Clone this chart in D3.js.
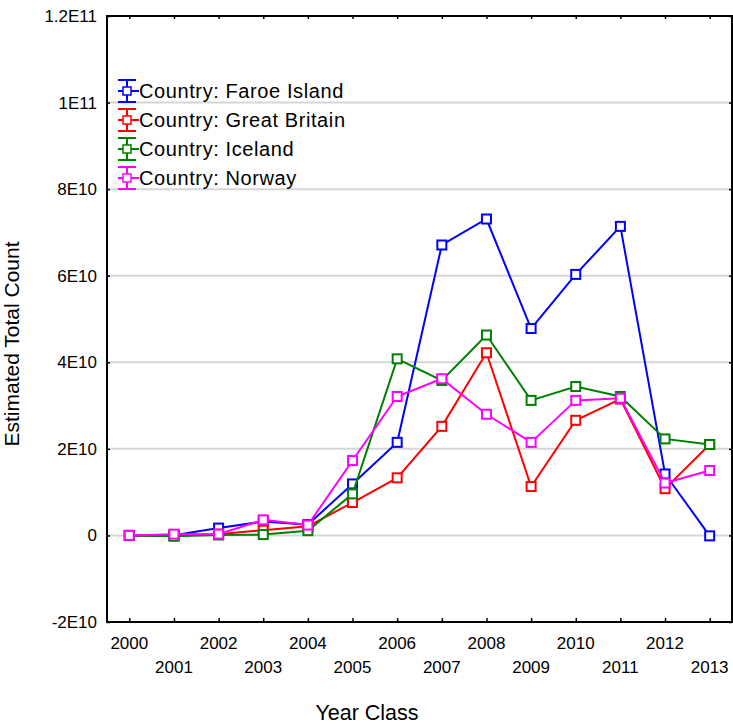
<!DOCTYPE html>
<html lang="en">
<head>
<meta charset="UTF-8">
<title>Estimated Total Count by Year Class</title>
<script src="https://cdn.jsdelivr.net/npm/d3@7"></script>
<style>
  body { margin: 0; background: #fff; }
  svg { display: block; font-family: "Liberation Sans", Arial, sans-serif; }
</style>
</head>
<body>
<svg id="chart" width="733" height="725"></svg>
<script>
// data
const years = [2000, 2001, 2002, 2003, 2004, 2005, 2006, 2007, 2008, 2009, 2010, 2011, 2012, 2013]
const faroe = [0, 0.03e9, 1.7e9, 3.2e9, 2.5e9, 1.19e10, 2.15e10, 6.71e10, 7.31e10, 4.78e10, 6.03e10, 7.14e10, 1.42e10, -0.1e9]
const britain = [0, 0.1e9, 0.3e9, 1.2e9, 2.1e9, 7.6e9, 1.33e10, 2.52e10, 4.22e10, 1.13e10, 2.66e10, 3.15e10, 1.08e10, 2.1e10]
const iceland = [0, -0.2e9, 0.1e9, 0.2e9, 1.1e9, 9.6e9, 4.08e10, 3.58e10, 4.63e10, 3.12e10, 3.44e10, 3.21e10, 2.23e10, 2.1e10]
const norway = [0, 0.3e9, 0.3e9, 3.6e9, 2.4e9, 1.73e10, 3.21e10, 3.62e10, 2.8e10, 2.15e10, 3.12e10, 3.17e10, 1.21e10, 1.5e10]
const seriesNames = ['Country: Faroe Island', 'Country: Great Britain', 'Country: Iceland', 'Country: Norway']
const seriesColors = ['#0000ff', '#ff0000', '#008000', '#ff00ff']
const yTicks = [-2e10, 0, 2e10, 4e10, 6e10, 8e10, 1e11, 1.2e11]
const yTickLabels = ['-2E10', '0', '2E10', '4E10', '6E10', '8E10', '1E11', '1.2E11']

const series = [faroe, britain, iceland, norway].map((vals, i) => ({
  name: seriesNames[i],
  color: seriesColors[i],
  values: vals.map((v, j) => ({ year: years[j], value: v }))
}))

const plotLeft = 107, plotRight = 732, plotTop = 16, plotBottom = 622

const svg = d3.select('#chart')

const x = d3.scaleLinear().domain([1999.5, 2013.5]).range([plotLeft, plotRight])
const y = d3.scaleLinear().domain([-2e10, 1.2e11]).range([plotBottom, plotTop])

// gridlines
svg.append('g')
  .selectAll('line')
  .data(yTicks.slice(1, -1))
  .join('line')
  .attr('x1', plotLeft).attr('x2', plotRight)
  .attr('y1', d => y(d)).attr('y2', d => y(d))
  .attr('stroke', '#d6d6d6')
  .attr('stroke-width', 2)

// axes (inward ticks on all four sides)
const yLabel = d => yTickLabels[yTicks.indexOf(d)]

svg.append('g')
  .attr('transform', `translate(${plotLeft},0)`)
  .call(d3.axisRight(y).tickValues(yTicks).tickSize(3).tickFormat(''))
  .select('.domain').remove()

svg.append('g')
  .attr('transform', `translate(${plotRight},0)`)
  .call(d3.axisLeft(y).tickValues(yTicks).tickSize(3).tickFormat(''))
  .select('.domain').remove()

svg.append('g')
  .attr('transform', `translate(0,${plotBottom})`)
  .call(d3.axisTop(x).tickValues(years).tickSize(4).tickFormat(''))
  .select('.domain').remove()

svg.append('g')
  .attr('transform', `translate(0,${plotTop})`)
  .call(d3.axisBottom(x).tickValues(years).tickSize(3).tickFormat(''))
  .select('.domain').remove()

svg.selectAll('.tick line').attr('stroke', '#000').attr('stroke-width', 1.5)

// y tick labels
svg.append('g')
  .selectAll('text')
  .data(yTicks)
  .join('text')
  .attr('x', 97)
  .attr('y', d => y(d))
  .attr('dy', '0.35em')
  .attr('text-anchor', 'end')
  .attr('font-size', 17)
  .text(yLabel)

// x tick labels, staggered
svg.append('g')
  .selectAll('text')
  .data(years)
  .join('text')
  .attr('x', d => x(d))
  .attr('y', (d, i) => i % 2 === 0 ? 649 : 673)
  .attr('text-anchor', 'middle')
  .attr('font-size', 17)
  .text(d => d)

// frame
svg.append('rect')
  .attr('x', plotLeft).attr('y', plotTop)
  .attr('width', plotRight - plotLeft).attr('height', plotBottom - plotTop)
  .attr('fill', 'none')
  .attr('stroke', '#000')
  .attr('stroke-width', 2)

// axis titles
svg.append('text')
  .attr('x', 367).attr('y', 720)
  .attr('text-anchor', 'middle')
  .attr('font-size', 21.5)
  .text('Year Class')

svg.append('text')
  .attr('transform', 'translate(19,344) rotate(-90)')
  .attr('text-anchor', 'middle')
  .attr('font-size', 21)
  .text('Estimated Total Count')

// lines and markers
const line = d3.line().x(d => x(d.year)).y(d => y(d.value))

const groups = svg.append('g')
  .selectAll('g')
  .data(series)
  .join('g')

groups.append('path')
  .attr('d', d => line(d.values))
  .attr('fill', 'none')
  .attr('stroke', d => d.color)
  .attr('stroke-width', 2)

groups.selectAll('rect')
  .data(d => d.values.map(v => ({ ...v, color: d.color })))
  .join('rect')
  .attr('x', d => x(d.year) - 4.5)
  .attr('y', d => y(d.value) - 4.5)
  .attr('width', 9)
  .attr('height', 9)
  .attr('fill', '#fff')
  .attr('stroke', d => d.color)
  .attr('stroke-width', 2)

// legend
const legend = svg.append('g')
  .selectAll('g')
  .data(series)
  .join('g')
  .attr('transform', (d, i) => `translate(127,${91 + i * 29})`)

legend.append('line')
  .attr('x1', 0).attr('x2', 0).attr('y1', -11).attr('y2', 11)
  .attr('stroke', d => d.color).attr('stroke-width', 2)
legend.append('line')
  .attr('x1', -9).attr('x2', 9).attr('y1', -11).attr('y2', -11)
  .attr('stroke', d => d.color).attr('stroke-width', 2)
legend.append('line')
  .attr('x1', -9).attr('x2', 9).attr('y1', 11).attr('y2', 11)
  .attr('stroke', d => d.color).attr('stroke-width', 2)
legend.append('line')
  .attr('x1', -9).attr('x2', 12).attr('y1', 0).attr('y2', 0)
  .attr('stroke', d => d.color).attr('stroke-width', 2)
legend.append('rect')
  .attr('x', -4).attr('y', -4).attr('width', 8).attr('height', 8)
  .attr('fill', '#fff')
  .attr('stroke', d => d.color).attr('stroke-width', 1.5)
legend.append('text')
  .attr('x', 12).attr('y', 0).attr('dy', '0.35em')
  .attr('font-size', 20)
  .attr('letter-spacing', 0.6)
  .text(d => d.name)
</script>
</body>
</html>
